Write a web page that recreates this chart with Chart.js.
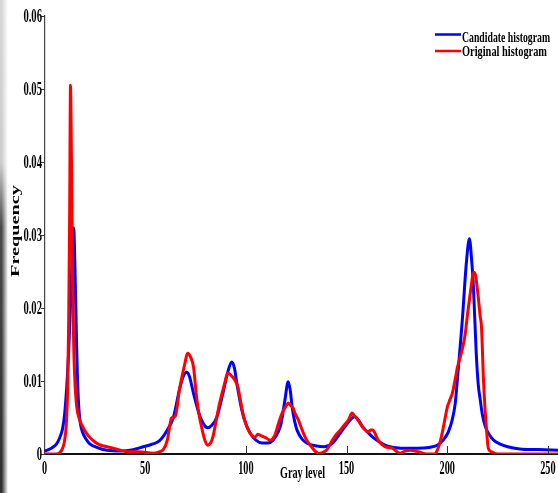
<!DOCTYPE html>
<html>
<head>
<meta charset="utf-8">
<script src="https://cdn.jsdelivr.net/npm/chart.js@4.4.0/dist/chart.umd.min.js"></script>
<style>
  html, body { margin: 0; padding: 0; background: #fff; }
  #wrap { position: relative; width: 558px; height: 493px; }
  #edge {
    position: absolute; left: 0; top: 0; width: 8px; height: 493px;
    background:
      linear-gradient(to right, rgba(255,255,255,0) 20%, #fff 100%),
      linear-gradient(to bottom, #d6d6d6 0%, #cdcdcd 33%, #4a4a4a 46%, #2e2e2e 100%);
  }
  canvas { position: absolute; left: 0; top: 0; }
</style>
</head>
<body>
<div id="wrap">
  <div id="edge"></div>
  <canvas id="histChart" width="558" height="493"></canvas>
</div>
<script>
// gray levels / frequencies
const candLevels = [0, 2, 4, 6, 7.5, 9, 10, 11, 12, 13, 14, 14.5, 15, 15.7, 16.3, 17, 17.8, 19, 20.5, 22.5,
  26, 31, 38, 44, 49, 53, 57, 61, 64, 67, 69, 70.6, 72, 74, 77, 79, 81, 83, 85.5, 88.6,
  91, 93, 94.3, 95.5, 98, 100, 102, 105, 108, 111, 113.5, 116, 117.5, 119.4, 121, 122, 123, 124.2, 125.5, 128,
  131, 135, 139, 143, 147, 151, 154, 156, 158, 160.5, 163, 166, 170, 177, 185, 191, 195, 198, 200.5, 202.5,
  204, 205, 206.5, 207.5, 209.5, 211, 212, 213, 214.4, 215.4, 216.4, 217.5, 219, 221, 223, 226, 230, 236, 245, 255];
const candFreq = [0.0004, 0.0006, 0.0009, 0.0014, 0.0022, 0.0035, 0.0055, 0.009, 0.014, 0.021, 0.029, 0.031, 0.027, 0.018, 0.011, 0.0065, 0.0042, 0.0029, 0.0021, 0.0014,
  0.0009, 0.0005, 0.0004, 0.0006, 0.001, 0.0013, 0.0018, 0.0033, 0.005, 0.0088, 0.0107, 0.0112, 0.0106, 0.0083, 0.0053, 0.0041, 0.0036, 0.0039, 0.005, 0.0083,
  0.0112, 0.0126, 0.0118, 0.0097, 0.006, 0.0041, 0.0029, 0.0019, 0.0015, 0.0015, 0.0019, 0.003, 0.0042, 0.0074, 0.0099, 0.0088, 0.0064, 0.0045, 0.0032, 0.002,
  0.0014, 0.0011, 0.001, 0.0015, 0.0029, 0.0044, 0.0051, 0.0046, 0.0037, 0.003, 0.0023, 0.0017, 0.0011, 0.0008, 0.0008, 0.0009, 0.0012, 0.0019, 0.003, 0.0047,
  0.007, 0.0101, 0.015, 0.0184, 0.0262, 0.0295, 0.027, 0.0229, 0.0138, 0.0095, 0.0074, 0.0053, 0.0037, 0.0026, 0.0019, 0.0014, 0.001, 0.0007, 0.0006, 0.0005];

const origLevels = [0, 6, 8.5, 9.5, 10, 10.8, 11.5, 12, 12.5, 12.9, 13.4, 13.9, 14.5, 15, 16, 17.4, 19, 20.7, 22.4, 25.7,
  28, 31, 34, 38, 41, 47, 54, 57, 59, 61, 62, 63, 65, 67, 69.7, 71, 72.5, 74, 75.5, 77,
  78, 79.5, 81, 82.5, 83.6, 85, 87, 89.5, 91, 93.5, 95, 96, 97.2, 98.5, 100, 102, 104.5, 106, 107, 110,
  112, 114.4, 116, 118, 120, 121, 122, 123.4, 124.5, 126, 128.5, 130, 132, 134, 136, 138, 140, 143, 145, 147,
  149, 151, 152.7, 154, 155, 158, 160.7, 162, 163, 164.5, 165.7, 169, 172.6, 176.6, 179, 181.6, 184, 185.6, 190, 194,
  195, 196.3, 197.5, 199, 200, 201, 202.5, 204, 205, 206.5, 208, 209, 210, 211, 212, 213, 214, 215.4, 216.3, 217,
  218, 218.8, 219.4, 220.4, 222, 225, 255];
const origFreq = [0, 0, 0.0005, 0.0012, 0.0019, 0.004, 0.009, 0.018, 0.033, 0.0505, 0.04, 0.025, 0.015, 0.0105, 0.0065, 0.0047, 0.0037, 0.0029, 0.0023, 0.0015,
  0.0012, 0.001, 0.0008, 0.0005, 0.0003, 0.0003, 0.0001, 0.0003, 0.0006, 0.0019, 0.0035, 0.0049, 0.0052, 0.0088, 0.0124, 0.0138, 0.0133, 0.0119, 0.0078, 0.005,
  0.0037, 0.002, 0.0012, 0.0015, 0.0023, 0.0042, 0.007, 0.0097, 0.0111, 0.0105, 0.0099, 0.0092, 0.0075, 0.0056, 0.0041, 0.0029, 0.0023, 0.0027, 0.0026, 0.0022,
  0.0019, 0.0026, 0.004, 0.0056, 0.0066, 0.007, 0.0067, 0.0063, 0.0055, 0.0047, 0.0029, 0.002, 0.0012, 0.0005, 0.0001, 0.0002, 0.0005, 0.0019, 0.0027, 0.0033,
  0.004, 0.0047, 0.0056, 0.0052, 0.0049, 0.0037, 0.003, 0.0033, 0.0033, 0.0026, 0.0019, 0.001, 0.0008, 0.0001, 0.0004, 0.0005, 0.0004, 0.0003, 0, 0,
  0.0005, 0.0015, 0.0029, 0.005, 0.0064, 0.0072, 0.0083, 0.0103, 0.0118, 0.0133, 0.015, 0.0166, 0.019, 0.0211, 0.0232, 0.0249, 0.0245, 0.0215, 0.019, 0.0174,
  0.0101, 0.006, 0.0037, 0.0008, 0.0003, 0, 0];

const xTicks = [0, 50, 100, 150, 200, 250];
const yTicks = [0, 0.01, 0.02, 0.03, 0.04, 0.05, 0.06];
const yTickLabels = ["0", "0.01", "0.02", "0.03", "0.04", "0.05", "0.06"];

// text in the picture is narrow, so squash it horizontally
function squashText(ctx, text, x, y, font, sx, align, rot) {
    ctx.save();
    ctx.font = font;
    ctx.translate(x, y);
    if (rot) ctx.rotate(rot);
    ctx.scale(sx, 1);
    ctx.textAlign = align;
    ctx.textBaseline = "middle";
    ctx.fillStyle = "#000";
    ctx.fillText(text, 0, 0);
    ctx.restore();
}
function fitText(ctx, text, x, y, font, width, align, rot) {
    ctx.save();
    ctx.font = font;
    const w = ctx.measureText(text).width;
    ctx.restore();
    squashText(ctx, text, x, y, font, width / w, align, rot);
}

const decor = {
    id: "decor",
    afterDraw(chart) {
        const ctx = chart.ctx;
        const xs = chart.scales.x;
        const ys = chart.scales.y;
        const area = chart.chartArea;
        const tickFont = 'bold 19px "Liberation Serif"';

        ctx.save();
        ctx.strokeStyle = "#333";
        ctx.lineWidth = 1;
        // y ticks point outwards
        yTicks.forEach(v => {
            const py = Math.round(ys.getPixelForValue(v)) + 0.5;
            ctx.beginPath();
            ctx.moveTo(area.left - 3.5, py);
            ctx.lineTo(area.left, py);
            ctx.stroke();
        });
        // x ticks point inwards
        xTicks.slice(1).forEach(v => {
            const px = Math.round(xs.getPixelForValue(v)) + 0.5;
            ctx.beginPath();
            ctx.moveTo(px, area.bottom);
            ctx.lineTo(px, area.bottom - 8);
            ctx.stroke();
        });
        ctx.restore();

        yTicks.forEach((v, i) => {
            squashText(ctx, yTickLabels[i], area.left - 2.5, ys.getPixelForValue(v) + 1.5, tickFont, 0.56, "right");
        });
        xTicks.forEach(v => {
            squashText(ctx, String(v), xs.getPixelForValue(v), area.bottom + 15.5, tickFont, 0.54, "center");
        });

        fitText(ctx, "Gray level", 302.5, 474, 'bold 17px "Liberation Serif"', 45, "center");
        fitText(ctx, "Frequency", 16, 231, 'bold 12px "Liberation Serif"', 92, "center", -Math.PI / 2);

        // legend
        const items = [
            { ds: chart.data.datasets[0], y: 34.5, ty: 38, w: 88 },
            { ds: chart.data.datasets[1], y: 51, ty: 52.5, w: 85 }
        ];
        items.forEach(it => {
            ctx.save();
            ctx.strokeStyle = it.ds.borderColor;
            ctx.lineWidth = 2.5;
            ctx.beginPath();
            ctx.moveTo(435, it.y);
            ctx.lineTo(461, it.y);
            ctx.stroke();
            ctx.restore();
            fitText(ctx, it.ds.label, 462, it.ty, 'bold 14px "Liberation Serif"', it.w, "left");
        });
    }
};

const ctx = document.getElementById("histChart").getContext("2d");

new Chart(ctx, {
    type: "line",
    data: {
        datasets: [
            {
                label: "Candidate histogram",
                data: candLevels.map((g, i) => ({ x: g, y: candFreq[i] })),
                borderColor: "#0000ff",
                backgroundColor: "#0000ff",
                borderWidth: 3,
                pointRadius: 0,
                cubicInterpolationMode: "monotone",
                order: 1
            },
            {
                label: "Original histogram",
                data: origLevels.map((g, i) => ({ x: g, y: origFreq[i] })),
                borderColor: "#ff0000",
                backgroundColor: "#ff0000",
                borderWidth: 3,
                pointRadius: 0,
                cubicInterpolationMode: "monotone",
                order: 0
            }
        ]
    },
    options: {
        responsive: false,
        animation: false,
        events: [],
        layout: { padding: { left: 44.5, top: 16, right: 0, bottom: 39 } },
        plugins: {
            legend: { display: false },
            tooltip: { enabled: false }
        },
        scales: {
            x: {
                type: "linear",
                min: 0,
                max: 255,
                grid: { display: false, drawTicks: false, tickLength: 0 },
                ticks: { display: false, padding: 0 },
                border: { display: true, color: "#111", width: 2 }
            },
            y: {
                min: 0,
                max: 0.06,
                grid: { display: false, drawTicks: false, tickLength: 0 },
                ticks: { display: false, padding: 0 },
                border: { display: true, color: "#444", width: 1.2 }
            }
        }
    },
    plugins: [decor]
});
</script>
</body>
</html>
